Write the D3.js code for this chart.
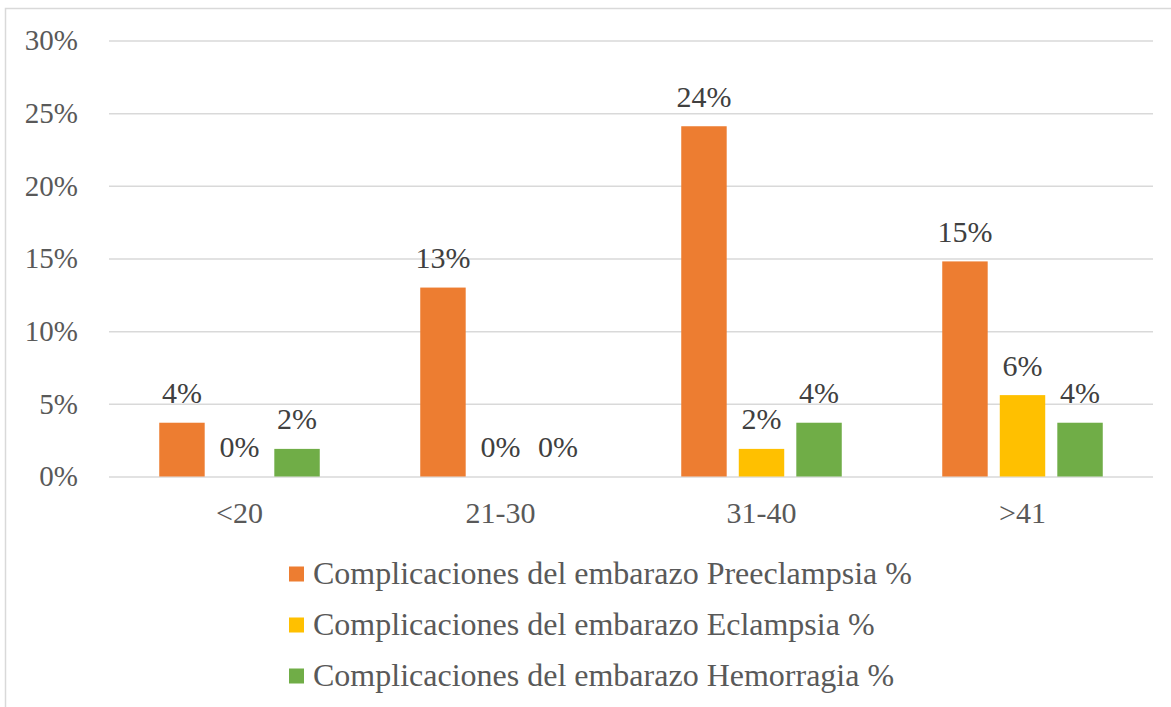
<!DOCTYPE html>
<meta charset="utf-8">
<style>

body {
  margin: 0;
  background: #fff;
}

</style>
<body>
<script src="https://cdn.jsdelivr.net/npm/d3@7"></script>
<script>

var width = 1171,
    height = 707,
    font = "'Liberation Serif', 'Times New Roman', Times, serif";

// chart data
var categories = ["<20", "21-30", "31-40", ">41"];
var seriesNames = [
  "Complicaciones del embarazo Preeclampsia %",
  "Complicaciones del embarazo Eclampsia %",
  "Complicaciones del embarazo Hemorragia %"
];
var preeclampsia = [0.037, 0.130, 0.241, 0.148];
var eclampsia = [0, 0, 0.019, 0.056];
var hemorragia = [0.019, 0, 0.037, 0.037];
var yTicks = [0, 0.05, 0.10, 0.15, 0.20, 0.25, 0.30];
var colors = ["#ed7d31", "#ffc000", "#70ad47"];

var series = [preeclampsia, eclampsia, hemorragia];

var svg = d3.select("body").append("svg")
    .attr("width", width)
    .attr("height", height)
    .style("font-family", font);

// outer chart frame
svg.append("rect")
    .attr("x", 5.5)
    .attr("y", 8.5)
    .attr("width", width + 10)
    .attr("height", height + 10)
    .attr("fill", "none")
    .attr("stroke", "#d9d9d9")
    .attr("stroke-width", 1.5);

var x0 = d3.scaleBand()
    .domain(categories)
    .range([109, 1153])
    .paddingInner(0.385)
    .paddingOuter(0.1925);

var x1 = d3.scaleBand()
    .domain(d3.range(series.length))
    .range([0, x0.bandwidth()])
    .paddingInner(0.21);

var y = d3.scaleLinear()
    .domain([0, 0.30])
    .range([476.5, 40.5]);

var fmt = d3.format(".0%");

// gridlines + y labels
var yAxis = svg.append("g")
    .attr("transform", "translate(109,0)")
    .call(d3.axisLeft(y).tickValues(yTicks).tickFormat(fmt).tickSize(-(1153 - 109)).tickPadding(31));

yAxis.attr("font-family", null).attr("font-size", null);
yAxis.select(".domain").remove();
yAxis.selectAll(".tick line")
    .attr("stroke", "#d9d9d9")
    .attr("stroke-width", 1.5);
yAxis.selectAll(".tick text")
    .style("font-family", font)
    .style("font-size", "29px")
    .attr("fill", "#595959");

// bars
var groups = svg.selectAll(".group")
    .data(categories)
  .enter().append("g")
    .attr("class", "group")
    .attr("transform", function(d) { return "translate(" + x0(d) + ",0)"; });

groups.selectAll("rect")
    .data(function(d, i) { return series.map(function(s, j) { return {k: j, v: s[i]}; }); })
  .enter().append("rect")
    .attr("x", function(d) { return x1(d.k); })
    .attr("y", function(d) { return y(d.v); })
    .attr("width", x1.bandwidth())
    .attr("height", function(d) { return y(0) - y(d.v); })
    .attr("fill", function(d) { return colors[d.k]; });

groups.selectAll(".label")
    .data(function(d, i) { return series.map(function(s, j) { return {k: j, v: s[i]}; }); })
  .enter().append("text")
    .attr("class", "label")
    .attr("x", function(d) { return x1(d.k) + x1.bandwidth() / 2; })
    .attr("y", function(d) { return y(d.v) - 19.5; })
    .attr("text-anchor", "middle")
    .style("font-size", "30px")
    .attr("fill", "#404040")
    .text(function(d) { return fmt(d.v); });

// category labels
var xAxis = svg.append("g")
    .attr("transform", "translate(0," + y(0) + ")")
    .call(d3.axisBottom(x0).tickSize(0).tickPadding(25));

xAxis.attr("font-family", null).attr("font-size", null);
xAxis.select(".domain").remove();
xAxis.selectAll(".tick text")
    .style("font-family", font)
    .style("font-size", "30px")
    .attr("fill", "#595959");

// legend
var legend = svg.selectAll(".legend-entry")
    .data(seriesNames)
  .enter().append("g")
    .attr("class", "legend-entry")
    .attr("transform", function(d, i) { return "translate(289," + (574 + i * 51) + ")"; });

legend.append("rect")
    .attr("y", -7.5)
    .attr("width", 15)
    .attr("height", 15)
    .attr("fill", function(d, i) { return colors[i]; });

legend.append("text")
    .attr("x", 24)
    .attr("y", 10)
    .style("font-size", "32px")
    .attr("fill", "#595959")
    .text(function(d) { return d; });

</script>
